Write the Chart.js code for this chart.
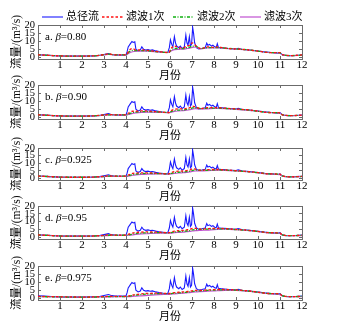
<!DOCTYPE html>
<html>
<head>
<meta charset="utf-8">
<script src="https://cdn.jsdelivr.net/npm/chart.js@4.4.1/dist/chart.umd.min.js"></script>
<style>
  body { margin: 0; background: #fff; }
  #wrap { position: relative; width: 337px; height: 330px; }
  #wrap canvas { position: absolute; left: 0; top: 0; }
</style>
</head>
<body>
<div id="wrap">
  <canvas id="p0" width="337" height="330"></canvas>
  <canvas id="p1" width="337" height="330"></canvas>
  <canvas id="p2" width="337" height="330"></canvas>
  <canvas id="p3" width="337" height="330"></canvas>
  <canvas id="p4" width="337" height="330"></canvas>
</div>
<script>
// labels
const seriesNames = ['总径流', '滤波1次', '滤波2次', '滤波3次'];
const panelTags = ['a.', 'b.', 'c.', 'd.', 'e.'];
const betas = ['0.80', '0.90', '0.925', '0.95', '0.975'];
const yTicks = [0, 5, 10, 15, 20];

// total runoff (month, m3/s)
const flowX = [0, 0.3, 0.6, 1, 1.5, 2, 2.5, 2.8, 3.0, 3.2, 3.3, 3.5, 3.8, 4.0, 4.05, 4.1, 4.2, 4.27, 4.33, 4.4,
  4.45, 4.55, 4.65, 4.72, 4.8, 4.9, 5.0, 5.1, 5.2, 5.35, 5.5, 5.7, 5.9, 5.97, 6.02, 6.08, 6.13, 6.2, 6.25, 6.3,
  6.4, 6.47, 6.55, 6.65, 6.72, 6.77, 6.82, 6.88, 6.93, 6.98, 7.03, 7.07, 7.12, 7.2, 7.3, 7.45, 7.6, 7.67, 7.72, 7.8,
  7.88, 7.95, 8.03, 8.1, 8.15, 8.2, 8.3, 8.45, 8.6, 8.8, 9.0, 9.1, 9.3, 9.5, 9.7, 10.0, 10.3, 10.6, 10.9, 11.0,
  11.05, 11.15, 11.4, 11.7, 12];
const flowQ = [1.6, 1.4, 1.2, 0.9, 0.8, 0.8, 0.9, 1.2, 1.8, 2.4, 1.9, 1.5, 1.4, 1.5, 3.5, 6.5, 8.5, 9.8, 9.2, 9.6,
  5.0, 4.0, 4.5, 6.5, 5.0, 4.5, 4.8, 4.4, 4.6, 4.0, 3.6, 3.2, 3.0, 6.0, 10.8, 8.0, 6.5, 12.8, 9.0, 7.0,
  6.0, 7.0, 5.5, 6.5, 13.8, 9.0, 7.5, 12.8, 7.0, 8.0, 18.5, 15.0, 9.0, 6.0, 5.2, 5.5, 6.0, 8.8, 7.5, 8.0,
  7.0, 7.5, 6.5, 6.2, 8.5, 6.2, 6.0, 5.8, 5.6, 5.4, 5.2, 5.6, 4.9, 4.7, 4.4, 3.9, 3.4, 3.0, 2.6, 3.0,
  2.2, 1.3, 1.1, 1.2, 1.5];

// baseflow after 1, 2 and 3 filter passes
const filterX = [0, 0.5, 1, 1.5, 2, 2.5, 3, 3.2, 3.5, 4, 4.15, 4.3, 4.45, 4.7, 5, 5.5, 5.95, 6.05, 6.2, 6.4,
  6.6, 6.75, 6.9, 7.02, 7.15, 7.4, 7.7, 8, 8.15, 8.5, 9, 9.5, 10, 10.5, 11, 11.1, 11.5, 12];

const p1_080 = [1.6,1.25,0.9,0.8,0.8,0.9,1.7,2.2,1.5,1.5, 4.5,5.5,4.5,4.6,4.3,3.5,3.0,5.5,7.0,6.0, 5.8,7.0,7.5,9.0,7.5,5.4,6.5,6.2,6.5,5.7, 5.2,4.7,3.9,3.0,2.9,1.7,1.1,1.5];
const p2_080 = [1.6,1.25,0.9,0.8,0.8,0.9,1.6,2.0,1.5,1.5, 3.5,4.3,4.2,4.2,4.0,3.4,3.0,4.5,5.5,5.5, 5.4,6.0,6.3,7.0,7.0,5.4,6.0,6.0,6.0,5.7, 5.2,4.7,3.9,3.0,2.8,1.7,1.1,1.4];
const p3_080 = [1.6,1.25,0.9,0.8,0.8,0.9,1.5,1.8,1.5,1.5, 2.8,3.5,3.8,3.9,3.8,3.3,3.0,4.0,4.8,5.0, 5.1,5.4,5.7,6.2,6.4,5.4,5.8,5.8,5.8,5.6, 5.1,4.6,3.8,3.0,2.7,1.7,1.1,1.4];

const p1_090 = [1.6,1.25,0.9,0.8,0.8,0.9,1.5,1.8,1.5,1.5, 3.0,3.8,3.8,4.0,3.9,3.4,3.0,4.2,5.0,5.2, 5.2,5.6,6.0,7.0,6.5,5.4,6.0,6.0,6.0,5.7, 5.2,4.7,3.9,3.0,2.8,1.6,1.1,1.4];
const p2_090 = [1.6,1.25,0.9,0.8,0.8,0.9,1.4,1.6,1.5,1.5, 2.3,3.0,3.3,3.5,3.5,3.3,3.0,3.6,4.2,4.5, 4.6,4.9,5.2,5.8,6.0,5.4,5.6,5.7,5.7,5.5, 5.1,4.6,3.8,3.0,2.7,1.7,1.1,1.3];
const p3_090 = [1.6,1.25,0.9,0.8,0.8,0.9,1.3,1.5,1.5,1.5, 1.9,2.5,2.8,3.1,3.2,3.1,2.9,3.2,3.7,4.0, 4.2,4.4,4.7,5.1,5.4,5.2,5.3,5.5,5.5,5.4, 5.0,4.5,3.8,3.0,2.6,1.7,1.1,1.2];

const p1_0925 = [1.6,1.25,0.9,0.8,0.8,0.9,1.4,1.7,1.5,1.5, 2.6,3.3,3.5,3.7,3.7,3.3,3.0,3.8,4.5,4.8, 4.9,5.2,5.5,6.3,6.2,5.4,5.8,5.9,5.9,5.6, 5.1,4.6,3.9,3.0,2.8,1.6,1.1,1.4];
const p2_0925 = [1.6,1.25,0.9,0.8,0.8,0.9,1.3,1.5,1.5,1.5, 2.0,2.5,2.9,3.2,3.3,3.2,3.0,3.3,3.8,4.1, 4.3,4.5,4.8,5.3,5.5,5.3,5.4,5.6,5.6,5.5, 5.0,4.5,3.8,3.0,2.7,1.7,1.1,1.3];
const p3_0925 = [1.6,1.25,0.9,0.8,0.8,0.9,1.2,1.4,1.4,1.4, 1.7,2.1,2.4,2.7,2.9,3.0,2.9,3.0,3.3,3.6, 3.8,4.0,4.3,4.7,4.9,5.0,5.1,5.3,5.4,5.3, 4.9,4.4,3.7,2.9,2.5,1.7,1.1,1.2];

const p1_095 = [1.6,1.25,0.9,0.8,0.8,0.9,1.3,1.6,1.5,1.5, 2.2,2.8,3.1,3.4,3.5,3.3,3.0,3.4,4.0,4.3, 4.5,4.8,5.1,5.7,5.8,5.3,5.6,5.8,5.8,5.6, 5.1,4.6,3.9,3.0,2.8,1.6,1.1,1.4];
const p2_095 = [1.6,1.25,0.9,0.8,0.8,0.9,1.2,1.4,1.4,1.4, 1.7,2.1,2.5,2.8,3.0,3.1,2.9,3.1,3.4,3.7, 3.9,4.1,4.4,4.8,5.0,5.1,5.3,5.5,5.5,5.4, 5.0,4.5,3.8,3.0,2.6,1.7,1.1,1.3];
const p3_095 = [1.6,1.25,0.9,0.8,0.8,0.9,1.1,1.2,1.3,1.3, 1.4,1.6,1.9,2.2,2.4,2.7,2.8,2.8,3.0,3.2, 3.4,3.6,3.8,4.1,4.3,4.5,4.7,5.0,5.1,5.2, 4.9,4.4,3.7,2.9,2.5,1.7,1.1,1.2];

const p1_0975 = [1.2,1.1,1.0,0.9,0.8,0.9,1.1,1.2,1.2,1.2, 1.6,2.0,2.4,2.8,3.1,3.2,3.0,3.2,3.5,3.8, 4.0,4.2,4.4,4.7,4.9,5.0,5.2,5.4,5.5,5.5, 5.2,4.7,3.9,3.0,2.8,1.6,1.1,1.2];
const p2_0975 = [1.1,1.0,0.9,0.8,0.8,0.8,1.0,1.1,1.1,1.1, 1.4,1.7,2.0,2.4,2.7,2.9,2.9,3.0,3.2,3.4, 3.6,3.8,4.0,4.3,4.5,4.7,4.9,5.1,5.2,5.3, 5.1,4.6,3.8,3.0,2.6,1.7,1.1,1.2];
const p3_0975 = [1.0,1.0,0.9,0.8,0.8,0.8,0.9,0.9,1.0,1.0, 1.1,1.2,1.4,1.6,1.9,2.3,2.5,2.6,2.8,3.0, 3.2,3.4,3.6,3.8,4.0,4.2,4.4,4.6,4.7,4.9, 4.9,4.5,3.7,2.8,2.3,1.6,1.0,1.1];

const pass1 = [p1_080, p1_090, p1_0925, p1_095, p1_0975];
const pass2 = [p2_080, p2_090, p2_0925, p2_095, p2_0975];
const pass3 = [p3_080, p3_090, p3_0925, p3_095, p3_0975];

// layout of the five panels (pixel rows of each plot box)
const plotTop = [25, 85, 148, 206, 266];
const plotBottom = [59, 119, 180, 239, 300];

const colors = ['#1a1aff', '#ff1010', '#10b010', '#c050d0'];
const dashes = [[], [2.5, 2], [3, 1.5, 1, 1.5], []];
const widths = [1.1, 1.3, 1.3, 1.2];
const frame = '#6b6b6b';
const serif = '"Liberation Serif", "Noto Sans CJK SC", serif';

Chart.defaults.font.family = serif;
Chart.defaults.color = '#000';

const pts = (xs, ys) => xs.map((x, i) => ({ x: x, y: ys[i] }));

const panelText = {
  id: 'panelText',
  afterDraw(chart, args, opts) {
    const { ctx, chartArea } = chart;
    ctx.save();
    ctx.fillStyle = '#000';
    ctx.textBaseline = 'middle';
    let x = chartArea.left + 7;
    const y = chartArea.top + 12;
    ctx.font = '11px ' + serif;
    ctx.fillText(opts.tag + ' ', x, y);
    x += ctx.measureText(opts.tag + ' ').width;
    ctx.font = 'italic 11px ' + serif;
    ctx.fillText('β', x, y);
    x += ctx.measureText('β').width;
    ctx.font = '11px ' + serif;
    ctx.fillText('=' + opts.beta, x, y);

    if (opts.legend) {
      const lx = [42, 102, 173, 240];
      const ly = 17;
      ctx.font = '11px ' + serif;
      seriesNames.forEach((name, i) => {
        ctx.strokeStyle = colors[i];
        ctx.lineWidth = widths[i];
        ctx.setLineDash(dashes[i]);
        ctx.beginPath();
        ctx.moveTo(lx[i], ly);
        ctx.lineTo(lx[i] + 21, ly);
        ctx.stroke();
        ctx.setLineDash([]);
        ctx.fillStyle = '#000';
        ctx.fillText(name, lx[i] + 24, ly);
      });
    }
    ctx.restore();
  }
};

const setYTicks = s => { s.ticks = yTicks.map(v => ({ value: v })); };
const gridOpts = { drawOnChartArea: false, drawTicks: true, tickLength: -3, color: frame };
const borderOpts = { color: frame, width: 1 };

for (let k = 0; k < 5; k++) {
  const order = [4, 1, 2, 3];
  const series = [pts(flowX, flowQ), pts(filterX, pass1[k]), pts(filterX, pass2[k]), pts(filterX, pass3[k])];
  const datasets = series.map((d, i) => ({
    label: seriesNames[i],
    data: d,
    borderColor: colors[i],
    backgroundColor: colors[i],
    borderWidth: widths[i],
    borderDash: dashes[i],
    pointRadius: 0,
    cubicInterpolationMode: i === 0 ? 'default' : 'monotone',
    tension: 0,
    order: order[i]
  }));

  new Chart(document.getElementById('p' + k), {
    type: 'line',
    data: { datasets: datasets },
    plugins: [panelText],
    options: {
      responsive: false,
      animation: false,
      events: [],
      layout: { padding: { top: plotTop[k], bottom: 330 - plotBottom[k] - 25, left: 0, right: 35 } },
      plugins: {
        legend: { display: false },
        tooltip: { enabled: false },
        panelText: { tag: panelTags[k], beta: betas[k], legend: k === 0 }
      },
      scales: {
        x: {
          type: 'linear', position: 'bottom', min: 0, max: 12,
          grid: gridOpts, border: borderOpts,
          ticks: { stepSize: 1, padding: 3, autoSkip: false, maxRotation: 0, font: { size: 11 },
                   callback: v => (v === 0 ? '' : v) },
          title: { display: true, text: '月份', font: { size: 11 }, padding: { top: 0, bottom: 1 } },
          afterFit: s => { s.height = 25; }
        },
        x2: {
          type: 'linear', position: 'top', min: 0, max: 12,
          grid: gridOpts, border: borderOpts,
          ticks: { stepSize: 1, display: false },
          afterFit: s => { s.height = 0; }
        },
        y: {
          type: 'linear', position: 'left', min: -1, max: 20,
          grid: gridOpts, border: borderOpts,
          afterBuildTicks: setYTicks,
          ticks: { padding: 6, autoSkip: false, font: { size: 10.5 } },
          title: { display: true, text: '流量/(m³/s)', font: { size: 11.5 }, padding: { top: 10, bottom: 0 } },
          afterFit: s => { s.width = 38; }
        },
        y2: {
          type: 'linear', position: 'right', min: -1, max: 20,
          grid: gridOpts, border: borderOpts,
          afterBuildTicks: setYTicks,
          ticks: { display: false },
          afterFit: s => { s.width = 0; }
        }
      }
    }
  });
}
</script>
</body>
</html>
